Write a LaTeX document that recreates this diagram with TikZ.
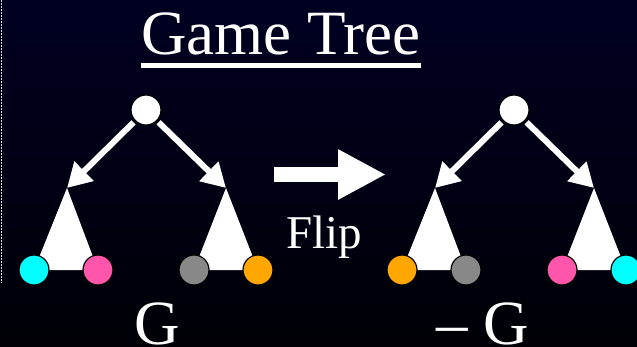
\documentclass[tikz,border=0pt]{standalone}
\usepackage{fontspec}
\setmainfont{Liberation Serif}
\newfontfamily\slidefont{Liberation Serif}
\usetikzlibrary{arrows.meta}
\definecolor{bgtop}{RGB}{0,0,34}
\definecolor{bgbot}{RGB}{0,0,6}
\definecolor{leafcyan}{RGB}{0,255,255}
\definecolor{leafpink}{RGB}{255,85,170}
\definecolor{leafgray}{RGB}{136,136,136}
\definecolor{leaforange}{RGB}{255,166,0}
\tikzset{
  treenode/.style={circle, draw=black, line width=1.2pt, minimum size=30pt, inner sep=0pt},
  rootnode/.style={treenode, fill=white},
  branch/.style={draw=white, line width=6pt, -{Triangle[length=24pt,width=26pt]}, shorten <=2pt},
  subtree/.style={fill=white},
  slidetext/.style={text=white, inner sep=0pt, anchor=base west},
  bigtext/.style={slidetext, font=\slidefont\fontsize{63}{70}\selectfont},
}
\begin{document}
\begin{tikzpicture}[x=1pt,y=-1pt]
  % background
  \shade[top color=bgtop, bottom color=bgbot] (0,0) rectangle (637,346);
  \useasboundingbox (0,0) rectangle (637,346);
  \draw[white!75!gray, line width=1.5pt, dash pattern=on 1.5pt off 1.5pt] (1.5,0) -- (1.5,283);

  % title
  \node[bigtext] (title) at (141,54) {Game Tree};
  \draw[white, line width=4.5pt] ([yshift=-11.5pt]title.base west) -- ([yshift=-11.5pt]title.base east);

  % flip arrow
  \node[inner sep=0pt] (fs) at (274,174.5) {};
  \node[inner sep=0pt] (ft) at (386,174.5) {};
  \draw[white, line width=15pt, -{Triangle[length=48pt,width=47pt]}] (fs.center) -- (ft.center);
  \node[slidetext, font=\slidefont\fontsize{47}{52}\selectfont] (flip) at (286,248) {Flip};

  % tree G
  \coordinate (la) at (67,188);
  \coordinate (ra) at (226,188);
  \node[rootnode] (root) at (146,110) {};
  \draw[branch] (root) -- (la);
  \draw[branch] (root) -- (ra);
  \fill[subtree] (la) -- (34,270) -- (98,270) -- cycle;
  \fill[subtree] (ra) -- (194,270) -- (258,270) -- cycle;
  \node[treenode, fill=leafcyan] (l1) at (34,270) {};
  \node[treenode, fill=leafpink] (l2) at (98,270) {};
  \node[treenode, fill=leafgray] (l3) at (194,270) {};
  \node[treenode, fill=leaforange] (l4) at (258,270) {};
  \node[bigtext] (g) at (134,344) {G};

  % tree -G
  \coordinate (nla) at (435,188);
  \coordinate (nra) at (594,188);
  \node[rootnode] (nroot) at (514,110) {};
  \draw[branch] (nroot) -- (nla);
  \draw[branch] (nroot) -- (nra);
  \fill[subtree] (nla) -- (402,270) -- (466,270) -- cycle;
  \fill[subtree] (nra) -- (562,270) -- (626,270) -- cycle;
  \node[treenode, fill=leaforange] (m1) at (402,270) {};
  \node[treenode, fill=leafgray] (m2) at (466,270) {};
  \node[treenode, fill=leafpink] (m3) at (562,270) {};
  \node[treenode, fill=leafcyan] (m4) at (626,270) {};
  \node[bigtext] (ng) at (436,344) {– G};
\end{tikzpicture}
\end{document}
